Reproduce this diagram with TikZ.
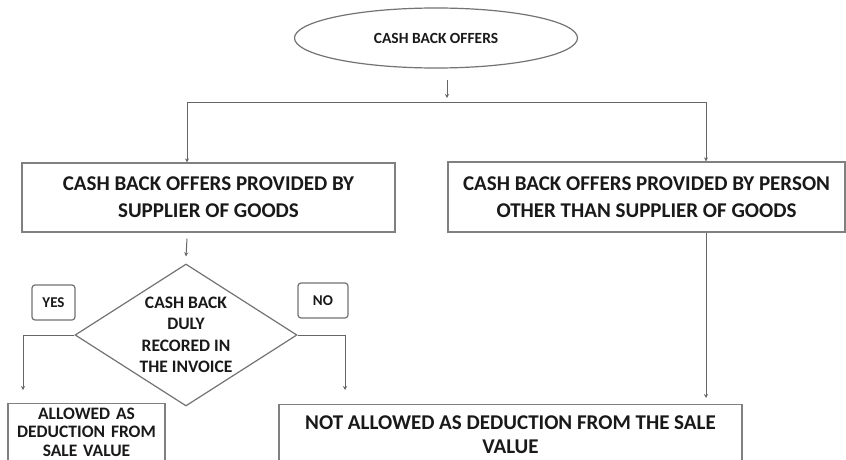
\documentclass[tikz,border=0pt]{standalone}
\usepackage{fontspec}
\setmainfont{Carlito}
\usetikzlibrary{shapes.geometric,arrows.meta,calc}
\begin{document}
\begin{tikzpicture}[x=1pt,y=-1pt,
  box/.style={draw=black!50,line width=1.3pt,fill=white,align=center,
    font=\bfseries\fontsize{21}{27}\selectfont,text=black!90,inner sep=0pt},
  conn/.style={draw=black!60,line width=1pt},
  arr/.style={conn,-{Stealth[length=4pt,width=4pt]}},
  tag/.style={draw=black!55,line width=1.2pt,rounded corners=3pt,
    font=\bfseries\fontsize{15}{18}\selectfont,text=black!90,inner sep=0pt,minimum height=35pt},
  dtext/.style={font=\bfseries\fontsize{17.5}{21.5}\selectfont,align=center,text=black!90,inner sep=0pt}
]
\useasboundingbox (0,0) rectangle (846,460);
\fill[white] (0,0) rectangle (846,460);
\clip (0,0) rectangle (846,460);

% top ellipse
\node[draw=black!55,line width=1.2pt,ellipse,minimum width=283pt,minimum height=60pt,
  inner sep=0pt,font=\bfseries\fontsize{15.5}{18}\selectfont,text=black!90] (top) at (436,38) {CASH BACK OFFERS};

% boxes
\node[box,minimum width=373pt,minimum height=69pt] (L) at (208.5,197.5)
  {CASH BACK OFFERS PROVIDED BY\\SUPPLIER OF GOODS};
\node[box,minimum width=397pt,minimum height=70pt] (R) at (646.5,197)
  {CASH BACK OFFERS PROVIDED BY PERSON\\OTHER THAN SUPPLIER OF GOODS};

% decision
\node[draw=black!55,line width=1.2pt,diamond,minimum width=222pt,minimum height=142pt,inner sep=0pt] (D) at (186,335) {};
\node[dtext] (Dt) at (D.center) {CASH BACK\\DULY\\RECORED IN\\THE INVOICE};

\node[tag,minimum width=43pt] (yes) at (53.5,302.5) {YES};
\node[tag,minimum width=50pt] (no) at (323,300.5) {NO};

% outcome boxes
\node[box,anchor=north,text width=157pt,minimum width=157pt,inner ysep=4pt,
  font=\bfseries\fontsize{17.5}{18.5}\selectfont] (BL) at (86.5,403)
  {ALLOWED AS\\DEDUCTION FROM\\SALE VALUE};
\node[box,anchor=north,minimum width=463pt,inner ysep=11pt,
  font=\bfseries\fontsize{21}{24}\selectfont] (BR) at (510.5,404)
  {NOT ALLOWED AS DEDUCTION FROM THE SALE\\VALUE};

% connectors
\coordinate (a1) at (447,80);
\coordinate (a2) at (447,98);
\draw[arr] (a1) -- (a2);
\coordinate (hl) at (187,102);
\coordinate (hr) at (706,102);
\draw[conn] (hl) -- (hr);
\draw[arr] (hl) -- (hl |- L.north);
\draw[arr] (hr) -- (hr |- R.north);

\draw[arr] ($(L.south -| hl)+(0,6)$) -- ($(D.north)+(0,-7)$);

\coordinate (yl) at (23,335);
\coordinate (yb) at (23,390);
\draw[conn] (D.west) -- (yl);
\draw[arr] (yl) -- (yb);

\coordinate (nr) at (345,335);
\coordinate (nb) at (345,390);
\draw[conn] (D.east) -- (nr);
\draw[arr] (nr) -- (nb);

\coordinate (rb) at (706,398);
\draw[arr] (R.south -| hr) -- (rb);
\end{tikzpicture}
\end{document}
